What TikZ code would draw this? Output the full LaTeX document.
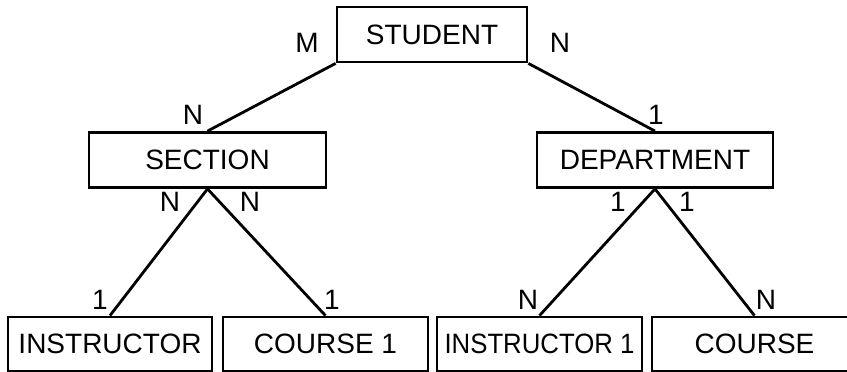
\documentclass[tikz,border=0pt]{standalone}
\usepackage{fontspec}
\setmainfont{Liberation Sans}
\usepackage{graphicx}
\usepackage{tikz}
\tikzset{  ent/.style={draw,rectangle,line width=1.4pt,minimum height=27.5pt,inner sep=0pt},
  card/.style={inner sep=0pt} }

\begin{document}
\begin{tikzpicture}[x=0.5pt,y=-0.5pt,line width=1.4pt,font=\fontsize{14}{16}\selectfont]
   \useasboundingbox (0,0) rectangle (847,371);
   \node[ent,minimum width=95pt] (stud) at (432,34.5) {STUDENT};
   \node[ent,minimum width=118.5pt] (sect) at (207.5,160) {SECTION};
   \node[ent,minimum width=118pt] (dept) at (655,160) {DEPARTMENT};
   \node[ent,minimum width=102pt,minimum height=27pt] (instr) at (110,344) {INSTRUCTOR};
   \node[ent,minimum width=102.5pt,minimum height=27pt] (crs1) at (325.5,344) {COURSE 1};
   \node[ent,minimum width=102.5pt,minimum height=27pt] (instr1) at (539.5,344) {\scalebox{0.92}[1]{INSTRUCTOR 1}};
   \node[ent,minimum width=102.5pt,minimum height=27pt] (crs) at (754.5,344) {COURSE};
   \draw (stud.south west) -- (sect.north);
   \draw (stud.south east) -- (dept.north);
   \draw (sect.south) -- (instr.north);
   \draw (sect.south) -- (crs1.north);
   \draw (dept.south) -- (instr1.north);
   \draw (dept.south) -- (crs.north);
   % cardinalities
   \node[card] (m1) at (307,43) {M};
   \node[card] (n1) at (560,43) {N};
   \node[card] (n2) at (193,115) {N};
   \node[card] (o1) at (656,115) {1};
   \node[card] (n3) at (170,202) {N};
   \node[card] (n4) at (250,202) {N};
   \node[card] (o2) at (618,202) {1};
   \node[card] (o3) at (687,202) {1};
   \node[card] (o4) at (100,300) {1};
   \node[card] (o5) at (332,300) {1};
   \node[card] (n5) at (528,300) {N};
   \node[card] (n6) at (766,300) {N};
  \end{tikzpicture}
\end{document}
